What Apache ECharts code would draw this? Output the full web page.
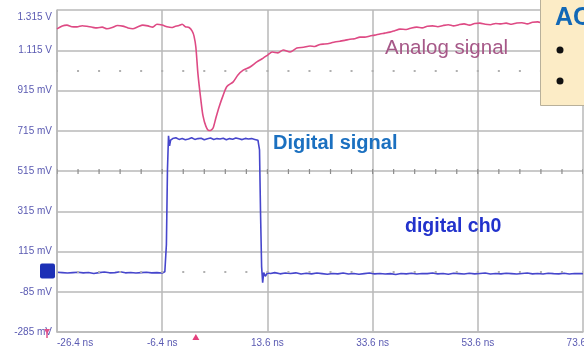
<!DOCTYPE html>
<html>
<head>
<meta charset="utf-8">
<script src="https://cdn.jsdelivr.net/npm/echarts@6/dist/echarts.min.js"></script>
<style>
  html, body { margin: 0; padding: 0; background: #ffffff; }
  #scope { width: 584px; height: 351px; }
</style>
</head>
<body>
<div id="scope"></div>
<script>
// Analog channel: sample times (ns) and voltages (mV)
const analogTimeNs = [
  -26.4, -25.4, -24.5, -23.6, -22.6, -21.6, -20.7, -19.7, -18.8, -17.8,
  -16.9, -15.9, -14.9, -13.9, -12.9, -12.0, -11.0, -10.1, -9.1, -8.2,
  -7.4, -6.4, -5.5, -4.6, -4.0, -3.2, -2.6, -2.0, -1.3, -0.7,
  -0.35, 0.0, 0.4, 0.95, 1.35, 1.9, 2.5, 2.9, 3.3, 3.8,
  4.4, 5.2, 5.9, 7.1, 8.0, 9.0, 10.3, 11.6, 12.8, 13.7,
  14.5, 15.6, 16.6, 17.9, 19.2, 20.5, 21.7, 22.6, 23.6, 24.5,
  25.5, 26.4, 27.4, 28.3, 29.3, 30.2, 31.2, 32.1, 33.1, 34.0,
  35.0, 35.9, 36.9, 37.8, 38.8, 40.0, 41.0, 42.0, 43.0, 44.0,
  45.0, 46.0, 47.0, 48.0, 49.0, 50.0, 51.0, 52.0, 53.0, 54.0,
  55.0, 56.0, 57.0, 58.0, 59.0, 60.0, 61.0, 62.0, 63.0, 64.0,
  65.0, 66.0, 67.0, 68.0, 69.0, 70.0, 71.0, 72.0, 73.6
];
const analogMv = [
  1221, 1236, 1240, 1232, 1231, 1237, 1234, 1229, 1226, 1230,
  1222, 1228, 1238, 1235, 1226, 1222, 1232, 1240, 1236, 1230,
  1244, 1240, 1232, 1228, 1233, 1238, 1244, 1232, 1228, 1210,
  1185, 1130, 996, 868, 790, 738, 716, 718, 730, 778,
  832, 892, 935, 958, 992, 1016, 1032, 1057, 1076, 1092,
  1106, 1102, 1116, 1106, 1126, 1130, 1136, 1134, 1144, 1146,
  1150, 1156, 1160, 1164, 1170, 1172, 1180, 1180, 1186, 1190,
  1196, 1200, 1205, 1212, 1220, 1218, 1226, 1230, 1226, 1234,
  1236, 1232, 1238, 1242, 1236, 1242, 1246, 1240, 1248, 1250,
  1244, 1242, 1248, 1246, 1250, 1244, 1250, 1252, 1246, 1254,
  1256, 1250, 1256, 1258, 1254, 1258, 1260, 1256, 1260
];

// Digital channel: sample times (ns) and voltages (mV)
const digitalTimeNs = [
  -26.4, -25.4, -24.4, -23.4, -22.4, -21.4, -20.4, -19.4, -18.4, -17.4,
  -16.4, -15.4, -14.4, -13.4, -12.4, -11.4, -10.4, -9.4, -8.4, -7.4,
  -6.4, -5.9, -5.6, -5.4, -5.2, -5.0, -4.8, -4.4, -3.8, -3.2,
  -2.6, -2.0, -1.4, -0.8, -0.2, 0.4, 1.0, 1.6, 2.2, 2.8,
  3.4, 4.0, 4.6, 5.2, 5.8, 6.4, 7.0, 7.6, 8.2, 8.8,
  9.4, 10.0, 10.6, 11.2, 11.8, 12.1, 12.3, 12.5, 12.7, 12.9,
  13.2, 13.6, 14.2, 15.0, 16.0, 17.0, 18.0, 19.0, 20.0, 21.0,
  22.0, 23.0, 24.0, 25.0, 26.0, 27.0, 28.0, 29.0, 30.0, 31.0,
  32.0, 33.0, 34.0, 35.0, 36.0, 37.0, 38.0, 39.0, 40.0, 41.0,
  42.0, 43.0, 44.0, 45.0, 46.0, 47.0, 48.0, 49.0, 50.0, 51.0,
  52.0, 53.0, 54.0, 55.0, 56.0, 57.0, 58.0, 59.0, 60.0, 61.0,
  62.0, 63.0, 64.0, 65.0, 66.0, 67.0, 68.0, 69.0, 70.0, 71.0,
  72.0, 73.6
];
const digitalMv = [
  12, 10, 8, 10, 12, 9, 11, 6, 10, 13,
  9, 10, 14, 9, 11, 8, 10, 12, 9, 10,
  8, 14, 150, 520, 690, 640, 668, 676, 680, 672,
  676, 670, 674, 680, 672, 676, 678, 670, 675, 679,
  672, 676, 674, 678, 670, 676, 673, 679, 675, 671,
  677, 674, 676, 672, 668, 620, 300, 40, -40, 10,
  -8, 8, 6, 10, 4, 8, 6, 9, 3, 7,
  4, 8, 5, 2, 6, 4, 8, 3, 6, 2,
  5, 8, 4, 6, 3, 5, 1, 6, 4, 7,
  3, 6, 5, 8, 4, 6, 2, 7, 5, 3,
  7, 4, 6, 8, 3, 6, 4, 7, 5, 3,
  6, 8, 4, 6, 3, 7, 5, 4, 7, 3,
  6, 5
];

// Graticule
const timeTicksNs = [-26.4, -6.4, 13.6, 33.6, 53.6, 73.6];
const voltTicksMv = [-285, -85, 115, 315, 515, 715, 915, 1115, 1315];
const dottedRowsMv = [1015, 15];
const centerRowMv = 515;
const minorPerDivision = 5;

// Screen markers
const triggerTimeNs = 0;
const digitalOffsetMv = 18;

const GRID = { left: 57, top: 10, width: 526, height: 322 };
const GRID_COLOR = '#b9b9b9';
const LABEL_COLOR = '#5a5ab2';
const LABEL_FONT = 'Liberation Sans, Arial, sans-serif';

const fmtTime = v => v.toFixed(1) + ' ns';
const fmtVolt = v => Math.abs(v) >= 1000 ? (v / 1000).toFixed(3) + ' V' : Math.round(v) + ' mV';

const zip = (xs, ys) => xs.map((x, i) => [x, ys[i]]);

// Minor division spacing along the time axis, in pixels
const divisions = (timeTicksNs.length - 1) * minorPerDivision;
const minorPx = GRID.width / divisions;

const chart = echarts.init(document.getElementById('scope'), null, { renderer: 'canvas' });

chart.setOption({
  animation: false,
  backgroundColor: '#ffffff',
  grid: Object.assign({ outerBoundsMode: 'none', containLabel: false }, GRID),
  xAxis: {
    type: 'value',
    min: timeTicksNs[0],
    max: timeTicksNs[timeTicksNs.length - 1],
    interval: timeTicksNs[1] - timeTicksNs[0],
    axisLine: { show: true, onZero: false, lineStyle: { color: GRID_COLOR, width: 1.5 } },
    axisTick: { show: false },
    splitLine: { show: true, lineStyle: { color: GRID_COLOR, width: 1.5 } },
    axisLabel: {
      color: LABEL_COLOR, fontFamily: LABEL_FONT, fontSize: 10, margin: 6,
      alignMinLabel: 'left', formatter: v => fmtTime(v)
    }
  },
  yAxis: {
    type: 'value',
    min: voltTicksMv[0],
    max: voltTicksMv[voltTicksMv.length - 1],
    interval: voltTicksMv[1] - voltTicksMv[0],
    axisLine: { show: true, onZero: false, lineStyle: { color: GRID_COLOR, width: 1.5 } },
    axisTick: { show: false },
    splitLine: { show: true, lineStyle: { color: GRID_COLOR, width: 1.5 } },
    axisLabel: {
      color: LABEL_COLOR, fontFamily: LABEL_FONT, fontSize: 10, margin: 5,
      verticalAlignMaxLabel: 'top', padding: [2, 0, 0, 0], formatter: v => fmtVolt(v)
    }
  },
  series: [
    {
      // graticule: dotted rows and the ticked centre line
      type: 'line', data: [], z: 1, silent: true,
      markLine: {
        silent: true, symbol: 'none', label: { show: false }, animation: false,
        data: [
          ...dottedRowsMv.map(v => ({
            yAxis: v,
            lineStyle: { color: '#b0b0b0', width: 2, type: [2, minorPx - 2], dashOffset: 1 }
          })),
          {
            yAxis: centerRowMv,
            lineStyle: { color: '#8c8c8c', width: 5, type: [1.2, minorPx - 1.2], dashOffset: 0.6 }
          }
        ]
      }
    },
    {
      name: 'Analog signal',
      type: 'line', z: 3,
      data: zip(analogTimeNs, analogMv),
      showSymbol: false, smooth: 0.25,
      lineStyle: { color: '#de4a84', width: 1.6 }
    },
    {
      name: 'digital ch0',
      type: 'line', z: 3,
      data: zip(digitalTimeNs, digitalMv),
      showSymbol: false,
      lineStyle: { color: '#4646cc', width: 1.6 }
    }
  ]
});

// Channel / trigger indicators and annotations
const trigX = chart.convertToPixel({ xAxisIndex: 0 }, triggerTimeNs);
const chY = chart.convertToPixel({ yAxisIndex: 0 }, digitalOffsetMv);
const leftX = chart.convertToPixel({ xAxisIndex: 0 }, timeTicksNs[0]);
const bottomY = chart.convertToPixel({ yAxisIndex: 0 }, voltTicksMv[0]);

chart.setOption({
  graphic: [
    // digital channel offset marker
    { type: 'rect', z: 20, shape: { x: leftX - 17, y: chY - 7.5, width: 15, height: 15, r: 2 },
      style: { fill: '#1c30b6' } },
    // analog channel ground marker
    { type: 'polygon', z: 20,
      shape: { points: [[leftX - 13, bottomY - 3], [leftX - 7, bottomY - 3], [leftX - 10, bottomY + 2]] },
      style: { fill: '#e0508a' } },
    { type: 'line', z: 20,
      shape: { x1: leftX - 10, y1: bottomY + 1, x2: leftX - 10, y2: bottomY + 6 },
      style: { stroke: '#e0508a', lineWidth: 1.5 } },
    // trigger position marker
    { type: 'polygon', z: 20,
      shape: { points: [[trigX - 3.5, bottomY + 8], [trigX + 3.5, bottomY + 8], [trigX, bottomY + 2]] },
      style: { fill: '#e3407c' } },

    // trace annotations
    { type: 'text', z: 20, style: {
        x: 385, y: 48, text: 'Analog signal', fill: '#a65888',
        font: '20.5px "Liberation Sans", Arial, sans-serif', textVerticalAlign: 'middle', verticalAlign: 'middle' } },
    { type: 'text', z: 20, style: {
        x: 273, y: 143, text: 'Digital signal', fill: '#1b70c0',
        font: 'bold 20px "Liberation Sans", Arial, sans-serif', textVerticalAlign: 'middle', verticalAlign: 'middle' } },
    { type: 'text', z: 20, style: {
        x: 405, y: 227, text: 'digital ch0', fill: '#2232cc',
        font: 'bold 19.5px "Liberation Sans", Arial, sans-serif', textVerticalAlign: 'middle', verticalAlign: 'middle' } },

    // side panel
    { type: 'rect', z: 30, shape: { x: 540.5, y: -2, width: 50, height: 107.5 },
      style: { fill: '#fcecc6', stroke: '#b8b09a', lineWidth: 1 } },
    { type: 'text', z: 31, style: {
        x: 555, y: 18, text: 'AC', fill: '#1268b6',
        font: 'bold 25px "Liberation Sans", Arial, sans-serif', textVerticalAlign: 'middle', verticalAlign: 'middle' } },
    { type: 'circle', z: 31, shape: { cx: 560, cy: 50, r: 3.5 }, style: { fill: '#111111' } },
    { type: 'circle', z: 31, shape: { cx: 560, cy: 81, r: 3.5 }, style: { fill: '#111111' } }
  ]
});
</script>
</body>
</html>
